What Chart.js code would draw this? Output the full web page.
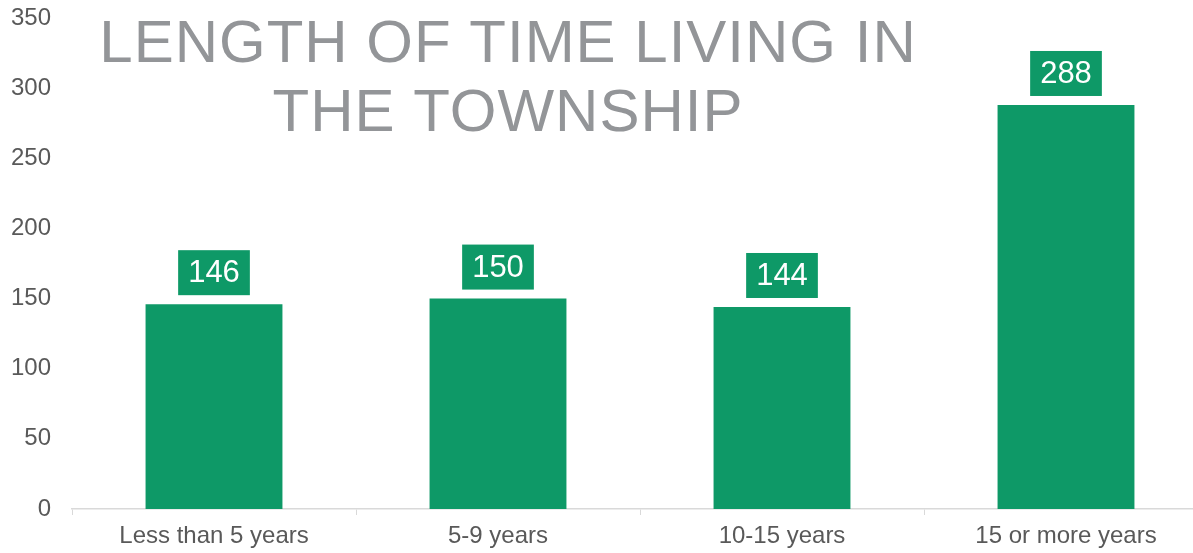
<!DOCTYPE html>
<html>
<head>
<meta charset="utf-8">
<script src="https://cdn.jsdelivr.net/npm/chart.js@4"></script>
<style>
  html, body { margin: 0; padding: 0; background: #fff; overflow: hidden; }
  #wrap { width: 1210px; height: 553px; position: relative; }
</style>
</head>
<body>
<div id="wrap"><canvas id="lengthChart"></canvas></div>
<script>
// chart data
var categories = ['Less than 5 years', '5-9 years', '10-15 years', '15 or more years'];
var respondents = [146, 150, 144, 288];
var yTicks = [0, 50, 100, 150, 200, 250, 300, 350];
var titleLines = ['LENGTH OF TIME LIVING IN', 'THE TOWNSHIP'];

var green = '#0e9967';

// boxed value labels above each bar
var valueBoxes = {
    id: 'valueBoxes',
    afterDatasetsDraw: function (chart) {
        var ctx = chart.ctx;
        var meta = chart.getDatasetMeta(0);
        ctx.save();
        ctx.font = '31px "Liberation Sans", Arial, sans-serif';
        ctx.textAlign = 'center';
        ctx.textBaseline = 'middle';
        meta.data.forEach(function (bar, i) {
            var txt = String(respondents[i]);
            var w = ctx.measureText(txt).width + 20;
            var h = 45;
            var bottom = bar.y - 9;
            ctx.fillStyle = green;
            ctx.fillRect(bar.x - w / 2, bottom - h, w, h);
            ctx.fillStyle = '#ffffff';
            ctx.fillText(txt, bar.x, bottom - h / 2 + 1);
        });
        ctx.restore();
    }
};

// big grey title sitting over the plot
var overlayTitle = {
    id: 'overlayTitle',
    afterDraw: function (chart) {
        var ctx = chart.ctx;
        ctx.save();
        ctx.font = '60px "Liberation Sans", Arial, sans-serif';
        ctx.letterSpacing = '1px';
        ctx.fillStyle = '#939598';
        ctx.textAlign = 'center';
        ctx.textBaseline = 'alphabetic';
        ctx.fillText(titleLines[0], 508, 62);
        ctx.fillText(titleLines[1], 508, 131);
        ctx.restore();
    }
};

var ctx = document.getElementById('lengthChart').getContext('2d');
var chart = new Chart(ctx, {
    type: 'bar',
    data: {
        labels: categories,
        datasets: [{
            label: 'Respondents',
            data: respondents,
            backgroundColor: green,
            borderWidth: 0,
            categoryPercentage: 1,
            barPercentage: 0.482
        }]
    },
    options: {
        responsive: true,
        maintainAspectRatio: false,
        animation: false,
        layout: { padding: { top: 18, right: 2, left: 0, bottom: 0 } },
        plugins: {
            legend: { display: false },
            tooltip: { enabled: false }
        },
        scales: {
            x: {
                grid: {
                    drawOnChartArea: false,
                    drawTicks: true,
                    tickLength: 6,
                    color: '#d9d9d9'
                },
                border: { color: '#d9d9d9', width: 1.5 },
                ticks: {
                    color: '#595959',
                    font: { family: '"Liberation Sans", Arial, sans-serif', size: 24 },
                    padding: 7
                },
                afterFit: function (scale) { scale.height = 44; }
            },
            y: {
                min: 0,
                max: 350,
                grid: { display: false },
                border: { display: false },
                afterBuildTicks: function (scale) {
                    scale.ticks = yTicks.map(function (v) { return { value: v }; });
                },
                ticks: {
                    color: '#595959',
                    font: { family: '"Liberation Sans", Arial, sans-serif', size: 24 },
                    padding: 13
                },
                afterFit: function (scale) {
                    scale.width = 72;
                    scale.paddingTop = 0;
                    scale.paddingBottom = 0;
                }
            }
        }
    },
    plugins: [valueBoxes, overlayTitle]
});
</script>
</body>
</html>
